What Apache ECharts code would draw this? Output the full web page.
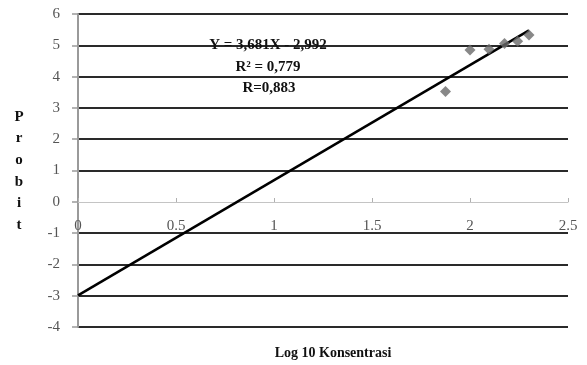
<!DOCTYPE html>
<html>
<head>
<meta charset="utf-8">
<script src="https://cdn.jsdelivr.net/npm/echarts@6/dist/echarts.min.js"></script>
<style>html,body{margin:0;padding:0;background:#fff}#c{width:587px;height:365px}</style>
</head>
<body>
<div id="c"></div>
<script>
// Data
var logConc = [1.875, 2.0, 2.097, 2.176, 2.243, 2.301];
var probit = [3.52, 4.85, 4.87, 5.06, 5.13, 5.33];
var trendX = [0, 2.301];
var trendY = [-2.992, 5.478];
var eqLines = ['Y = 3,681X - 2,992', 'R\u00b2 = 0,779', 'R=0,883'];
var xTitle = 'Log 10 Konsentrasi';
var yTitle = 'P\nr\no\nb\ni\nt';

var serif = '"Liberation Serif", "Times New Roman", serif';
var chart = echarts.init(document.getElementById('c'), null, {renderer: 'canvas'});

var splitColors = [];
for (var v = -4; v <= 6; v++) splitColors.push(v === 0 ? 'rgba(0,0,0,0)' : '#2a2a2a');

chart.setOption({
  animation: false,
  backgroundColor: '#fff',
  grid: {left: 78, right: 19, top: 14, bottom: 38},
  xAxis: {
    type: 'value', min: 0, max: 2.5, interval: 0.5,
    position: 'bottom', offset: -125,
    axisLine: {onZero: false, lineStyle: {color: '#c4c4c4', width: 1}},
    axisTick: {show: true, inside: true, length: 4, lineStyle: {color: '#b0b0b0'}},
    axisLabel: {margin: 17, color: '#555', fontFamily: serif, fontSize: 15},
    splitLine: {show: false}
  },
  yAxis: {
    type: 'value', min: -4, max: 6, interval: 1,
    axisLine: {show: true, onZero: false, lineStyle: {color: '#9a9a9a', width: 2}},
    axisTick: {show: true, length: 6, lineStyle: {color: '#9a9a9a', width: 1.5}},
    axisLabel: {margin: 18, color: '#555', fontFamily: serif, fontSize: 15},
    splitLine: {show: true, lineStyle: {color: splitColors, width: 2}}
  },
  series: [
    {
      type: 'line',
      data: trendX.map(function (x, i) { return [x, trendY[i]]; }),
      showSymbol: false, symbol: 'none',
      lineStyle: {color: '#000', width: 2.5},
      z: 3
    },
    {
      type: 'scatter',
      data: logConc.map(function (x, i) { return [x, probit[i]]; }),
      symbol: 'diamond', symbolSize: [11, 11],
      itemStyle: {color: '#6a6a6a'},
      z: 4
    }
  ],
  graphic: [
    {type: 'text', x: 268, y: 45, z: 10, style: {text: eqLines[0], fontFamily: serif, fontWeight: 'bold', fontSize: 15, fill: '#111', align: 'center', verticalAlign: 'middle'}},
    {type: 'text', x: 268, y: 67, z: 10, style: {text: eqLines[1], fontFamily: serif, fontWeight: 'bold', fontSize: 15, fill: '#111', align: 'center', verticalAlign: 'middle'}},
    {type: 'text', x: 269, y: 88, z: 10, style: {text: eqLines[2], fontFamily: serif, fontWeight: 'bold', fontSize: 15, fill: '#111', align: 'center', verticalAlign: 'middle'}},
    {type: 'text', x: 333, y: 353, style: {text: xTitle, fontFamily: serif, fontWeight: 'bold', fontSize: 14, fill: '#111', align: 'center', verticalAlign: 'middle'}},
    {type: 'text', x: 19, y: 171, style: {text: yTitle, fontFamily: serif, fontWeight: 'bold', fontSize: 15, lineHeight: 21.6, fill: '#111', align: 'center', verticalAlign: 'middle'}}
  ]
});
</script>
</body>
</html>
